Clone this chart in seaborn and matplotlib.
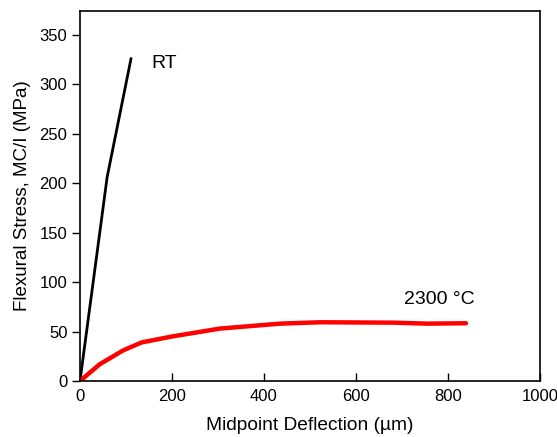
import matplotlib
matplotlib.use("Agg")
import matplotlib.pyplot as plt
import seaborn as sns
import pandas as pd

rt_x = [0, 59, 111]
rt_y = [0, 206, 326]
ht_x = [0, 43, 94, 134, 200, 304, 435, 522, 681, 754, 839]
ht_y = [0, 17, 31, 39, 45, 53, 58, 59.4, 59, 58, 58.4]

sns.set_style("white")
plt.rcParams['font.family'] = ['Liberation Sans', 'DejaVu Sans']
plt.rcParams['text.color'] = 'black'
plt.rcParams['axes.labelcolor'] = 'black'

fig = plt.figure(figsize=(5.57, 4.37), dpi=100)
ax = fig.add_axes([0.1436, 0.1281, 0.9695 - 0.1436, 0.9748 - 0.1281])

df_rt = pd.DataFrame({"x": rt_x, "y": rt_y})
df_ht = pd.DataFrame({"x": ht_x, "y": ht_y})
sns.lineplot(data=df_rt, x="x", y="y", sort=False, color="black", lw=2.0, ax=ax)
sns.lineplot(data=df_ht, x="x", y="y", sort=False, color="#ff0000", lw=3.2, ax=ax)

ax.set_xlim(0, 1000)
ax.set_ylim(0, 374)
ax.set_xticks([0, 200, 400, 600, 800, 1000])
ax.set_yticks([0, 50, 100, 150, 200, 250, 300, 350])
ax.tick_params(axis='x', bottom=True, direction='in', length=6, width=1, labelsize=12, pad=6,
               colors='black', labelcolor='black')
ax.tick_params(axis='y', left=True, direction='out', length=6, width=1, labelsize=12, pad=3,
               colors='black', labelcolor='black')
for s in ax.spines.values():
    s.set_color('black')
    s.set_linewidth(1.2)

ax.set_xlabel("Midpoint Deflection (µm)", fontsize=13.8, labelpad=9, color='black')
ax.set_ylabel("Flexural Stress, MC/I (MPa)", fontsize=13.5, labelpad=6, color='black')

ax.text(155, 321, "RT", fontsize=14, va='center', ha='left', color='black')
ax.text(704, 82, "2300 °C", fontsize=14, va='center', ha='left', color='black')

fig.savefig("out.png", dpi=100)
